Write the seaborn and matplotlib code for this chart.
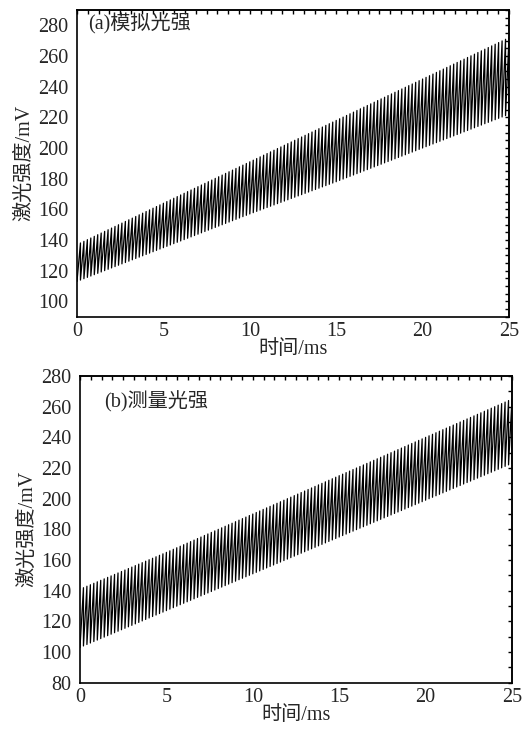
import numpy as np
import pandas as pd
import matplotlib
matplotlib.use("Agg")
import matplotlib.pyplot as plt
import seaborn as sns

# envelope readings (mV) at these times (ms)
env_t = [0, 5, 10, 15, 20, 25]
sim_top = [137, 164, 191, 218, 245, 272]
sim_bottom = [113, 135, 157, 178, 200, 222]
meas_top = [141, 165, 190, 215, 240, 265]
meas_bottom = [103, 127, 151, 175, 199, 223]
n_cycles = 125  # modulation periods in 25 ms

x_ticks = [0, 5, 10, 15, 20, 25]
labels = ["(a)模拟光强", "(b)测量光强"]


def sawtooth(top, bottom):
    # one ramp (bottom -> top) per period, then a vertical drop
    edges = np.linspace(env_t[0], env_t[-1], n_cycles + 1)
    lo = np.interp(edges, env_t, bottom)
    hi = np.interp(edges, env_t, top)
    xs, ys = [], []
    for k in range(n_cycles):
        xs += [edges[k], edges[k + 1]]
        ys += [lo[k], hi[k + 1]]
    xs.append(edges[-1])
    ys.append(lo[-1])
    return pd.DataFrame({"t": xs, "v": ys})


sns.set_theme(style="white")
plt.rcParams["font.family"] = ["Liberation Serif", "Noto Sans CJK SC"]
plt.rcParams["axes.unicode_minus"] = False

fig = plt.figure(figsize=(5.26, 7.30), dpi=100)
ax_a = fig.add_axes([77 / 526, 1 - 316.7 / 730, 432 / 526, 306.7 / 730])
ax_b = fig.add_axes([80 / 526, 1 - 682.7 / 730, 432 / 526, 306.7 / 730])

panels = [
    (ax_a, sawtooth(sim_top, sim_bottom), (90, 290), 5, labels[0], (0.026, 0.955)),
    (ax_b, sawtooth(meas_top, meas_bottom), (80, 280), 10, labels[1], (0.057, 0.915)),
]

for ax, df, ylim, right_step, lab, pos in panels:
    sns.lineplot(data=df, x="t", y="v", ax=ax, sort=False, estimator=None,
                 color="black", linewidth=0.9)
    ax.set_xlim(0, 25)
    ax.set_ylim(*ylim)
    ax.set_xticks(x_ticks)
    ax.set_xticks(np.arange(0, 25.01, 2.5), minor=True)
    ax.set_yticks(np.arange(ylim[0] + 10 if ylim[0] == 90 else ylim[0], ylim[1] + 1, 20))
    ax.set_yticks(np.arange(ylim[0], ylim[1] + 1, 10), minor=True)
    ax.tick_params(which="both", direction="in", top=False, right=False,
                   labelsize=14.5, color="black")
    ax.tick_params(axis="y", pad=6)
    ax.tick_params(axis="x", pad=4)
    ax.tick_params(which="major", length=5, width=1)
    ax.tick_params(which="minor", length=3, width=1)
    for s in ax.spines.values():
        s.set_linewidth(1.2)
        s.set_color("black")

    top = ax.secondary_xaxis("top")
    top.set_xticks(np.arange(0, 25.01, 0.625))
    top.set_xticklabels([])
    top.tick_params(direction="in", length=3, width=1, color="black")
    right = ax.secondary_yaxis("right")
    right.set_yticks(np.arange(ylim[0], ylim[1] + 0.1, right_step))
    right.set_yticklabels([])
    right.tick_params(direction="in", length=3, width=1, color="black")

    ax.set_xlabel("时间/ms", fontsize=14.5, labelpad=-1)
    ax.set_ylabel("激光强度/mV", fontsize=14.5, labelpad=3)
    ax.text(pos[0], pos[1], lab, transform=ax.transAxes, fontsize=14.5,
            ha="left", va="center")

fig.savefig("out.png", dpi=100)
